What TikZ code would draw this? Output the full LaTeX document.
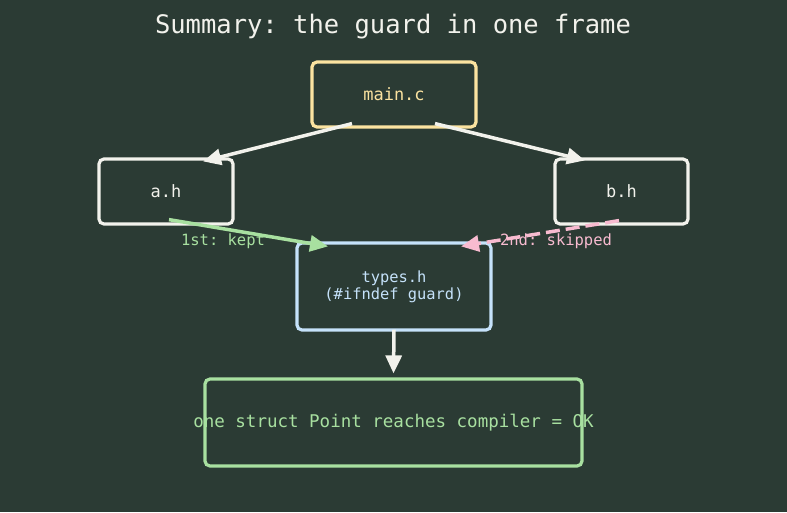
\documentclass[tikz,border=0pt]{standalone}
\usepackage{fontspec}
\newfontfamily\codefont{DejaVu Sans Mono}
\usetikzlibrary{arrows.meta,positioning}
\usepackage{xcolor}
\definecolor{BgDark}{HTML}{2B3B34}
\definecolor{ChalkWhite}{HTML}{F2F2EC}
\definecolor{YellowSoft}{HTML}{FBE3A0}
\definecolor{BlueSoft}{HTML}{C5E2FA}
\definecolor{GreenSoft}{HTML}{A8E0A0}
\definecolor{PinkSoft}{HTML}{F8BBD0}
\frenchspacing

\begin{document}
\begin{tikzpicture}[
  x=1pt, y=-1pt,
  >={Triangle[length=18pt,width=16pt]},
  font=\codefont\fontsize{17}{20}\selectfont,
  file/.style={draw=ChalkWhite, line width=3.2pt, rounded corners=5pt, align=center, minimum width=134pt, minimum height=65pt, text=ChalkWhite},
  guard/.style={file, draw=BlueSoft, text=BlueSoft, minimum width=194pt, minimum height=87pt, font=\codefont\fontsize{15.4}{17}\selectfont},
  result/.style={file, draw=GreenSoft, text=GreenSoft, minimum width=377pt, minimum height=87pt},
  link/.style={ChalkWhite, line width=3.5pt, ->},
  lbl/.style={font=\codefont\fontsize{15.5}{18}\selectfont}
]

% background
\fill[BgDark] (0,0) rectangle (787,512);

% Title
\node[text=ChalkWhite, font=\codefont\fontsize{25.5}{30}\selectfont] (title) at (393,26.5) {Summary: the guard in one frame};

% Nodes
\node[file, draw=YellowSoft, text=YellowSoft, minimum width=164pt] (main) at (394,94.5) {main.c};
\node[file] (ah) at (166,191.5) {a.h};
\node[file, minimum width=133pt] (bh) at (621.5,191.5) {b.h};
\node[guard] (types) at (394,286.5) {types.h\\(\#ifndef guard)};
\node[result] (out) at (393.5,422.5) {\makebox[0pt]{\fontsize{17.5}{20}\selectfont one struct Point reaches compiler = OK}};

% includes
\draw[link] ([xshift=-42pt,yshift=5pt]main.south) -- ([xshift=37pt,yshift=-4pt]ah.north);
\draw[link] ([xshift=41pt,yshift=5pt]main.south) -- ([xshift=-36.5pt,yshift=-3pt]bh.north);

% guard: first kept, second skipped
\draw[link, GreenSoft] ([xshift=3pt,yshift=6pt]ah.south) -- ([xshift=-66pt,yshift=-5pt]types.north);
\draw[link, PinkSoft, dash pattern=on 14pt off 6pt] ([xshift=-2.5pt,yshift=5pt]bh.south) -- ([xshift=67pt,yshift=-5pt]types.north);
\node[lbl, text=GreenSoft] (kept) at (223,241) {1st: kept};
\node[lbl, text=PinkSoft] (skipped) at (556,241) {2nd: skipped};

% result
\draw[link] ([yshift=2pt]types.south) -- ([yshift=4pt]out.north);

\end{tikzpicture}
\end{document}
